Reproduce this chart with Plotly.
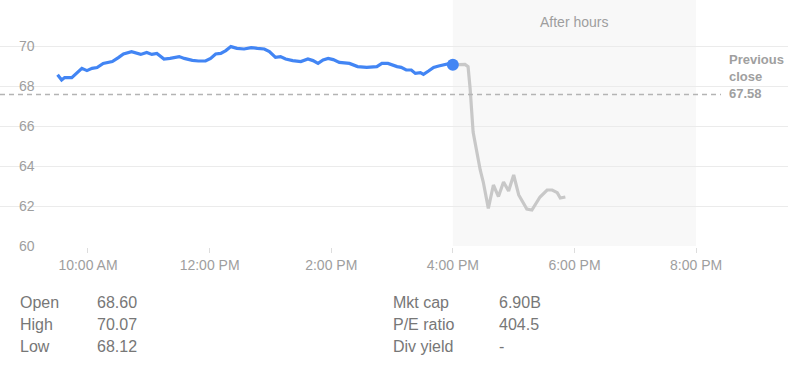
import plotly.graph_objects as go

DAY = "2019-05-02"

# Regular session (blue)
session_times = ["09:30", "09:34", "09:37", "09:44", "09:54", "09:59", "10:04", "10:09", "10:15", "10:24",
                 "10:30", "10:35", "10:43", "10:52", "10:58", "11:03", "11:08", "11:15", "11:21", "11:30",
                 "11:35", "11:43", "11:49", "11:56", "12:01", "12:06", "12:11", "12:16", "12:21", "12:27",
                 "12:34", "12:41", "12:47", "12:54", "12:59", "13:05", "13:10", "13:15", "13:22", "13:30",
                 "13:37", "13:42", "13:47", "13:52", "13:57", "14:02", "14:08", "14:18", "14:26", "14:35",
                 "14:45", "14:50", "14:56", "15:01", "15:05", "15:09", "15:14", "15:19", "15:23", "15:28",
                 "15:31", "15:36", "15:41", "15:46", "15:51", "15:57", "16:00"]
session_prices = [68.56, 68.30, 68.42, 68.42, 68.88, 68.77, 68.88, 68.92, 69.13, 69.22,
                  69.42, 69.60, 69.72, 69.58, 69.68, 69.58, 69.63, 69.35, 69.38, 69.47,
                  69.38, 69.28, 69.25, 69.25, 69.38, 69.60, 69.63, 69.77, 69.97, 69.88,
                  69.85, 69.92, 69.88, 69.85, 69.72, 69.43, 69.47, 69.35, 69.27, 69.22,
                  69.35, 69.27, 69.13, 69.30, 69.38, 69.32, 69.18, 69.13, 68.97, 68.93,
                  68.97, 69.13, 69.13, 69.02, 68.97, 68.93, 68.80, 68.80, 68.63, 68.67,
                  68.58, 68.75, 68.93, 69.00, 69.05, 69.13, 69.06]

# After hours (grey)
ah_times = ["16:00", "16:05", "16:12", "16:15", "16:17", "16:20", "16:24", "16:27", "16:30", "16:35",
            "16:40", "16:45", "16:50", "16:55", "17:00", "17:05", "17:13", "17:18", "17:26", "17:33",
            "17:38", "17:43", "17:46", "17:51"]
ah_prices = [69.06, 69.08, 69.08, 68.97, 67.90, 65.70, 64.55, 63.80, 63.20, 61.88,
             63.05, 62.47, 63.20, 62.75, 63.55, 62.55, 61.85, 61.80, 62.45, 62.80,
             62.80, 62.67, 62.40, 62.45]

prev_close = 67.58
y_ticks = [60, 62, 64, 66, 68, 70]

stats_left_labels = ["Open", "High", "Low"]
stats_left_values = ["68.60", "70.07", "68.12"]
stats_right_labels = ["Mkt cap", "P/E ratio", "Div yield"]
stats_right_values = ["6.90B", "404.5", "-"]

def ts(t):
    return f"{DAY} {t}"

FONT = "Liberation Sans, Arial, sans-serif"
W, H = 788, 375
PLOT_BOTTOM = 247  # px from top
Y0 = 59.95

fig = go.Figure()

fig.add_trace(go.Scatter(
    x=[ts(t) for t in ah_times], y=ah_prices, mode="lines",
    line=dict(color="#c8c8c8", width=3.2), hoverinfo="skip"))
fig.add_trace(go.Scatter(
    x=[ts(t) for t in session_times], y=session_prices, mode="lines",
    line=dict(color="#4285f4", width=3.2)))
fig.add_trace(go.Scatter(
    x=[ts(session_times[-1])], y=[session_prices[-1]], mode="markers",
    marker=dict(color="#4285f4", size=12)))

# After hours shading
fig.add_shape(type="rect", xref="x", yref="paper",
              x0=ts("16:00"), x1=ts("20:00"), y0=1 / PLOT_BOTTOM, y1=1,
              fillcolor="#f8f8f8", line_width=0, layer="below")
# Previous close line
fig.add_shape(type="line", xref="paper", yref="y",
              x0=0, x1=721 / W, y0=prev_close, y1=prev_close,
              line=dict(color="#b4b4b4", width=1.5, dash="5px,4px"))

fig.add_annotation(x=727 / W, xref="paper", y=prev_close, yref="y",
                   xanchor="left", yanchor="middle", yshift=17.5, align="left",
                   text=f"<b>Previous<br>close<br>{prev_close:.2f}</b>",
                   showarrow=False, font=dict(family=FONT, size=13, color="#a0a0a0"))
fig.add_annotation(x=ts("18:00"), xref="x", y=1 - 22 / PLOT_BOTTOM, yref="paper",
                   text="After hours", showarrow=False,
                   xanchor="center", yanchor="middle",
                   font=dict(family=FONT, size=14, color="#9e9e9e"))

def py(px):
    return (PLOT_BOTTOM - px) / PLOT_BOTTOM

rows_y = [302.5, 324.3, 346.7]
for col_x, labels in [(18, stats_left_labels), (95, stats_left_values),
                      (391, stats_right_labels), (497, stats_right_values)]:
    for lab, ry in zip(labels, rows_y):
        fig.add_annotation(x=col_x / W, xref="paper", y=py(ry), yref="paper",
                           xanchor="left", yanchor="middle", text=lab, showarrow=False,
                           font=dict(family=FONT, size=16, color="#777777"))

fig.update_layout(
    width=W, height=H,
    margin=dict(l=0, r=0, t=0, b=H - PLOT_BOTTOM, pad=0),
    paper_bgcolor="white", plot_bgcolor="white",
    showlegend=False,
    font=dict(family=FONT, size=14, color="#9e9e9e"),
    xaxis=dict(
        type="date", automargin=False,
        range=[f"{DAY} 08:33:12", f"{DAY} 21:30:40"],
        tick0=ts("10:00"), dtick=7200000, tickformat="%-I:%M %p",
        showgrid=False, zeroline=False, showline=False,
        ticks="outside", ticklen=5, tickcolor="#dddddd",
        tickfont=dict(family=FONT, size=14, color="#9e9e9e"),
    ),
    yaxis=dict(
        automargin=False,
        range=[Y0, Y0 + PLOT_BOTTOM / 20],
        tickvals=y_ticks, ticktext=[str(v) for v in y_ticks],
        ticklabelposition="inside", ticklabelstandoff=16, ticklabeloverflow="allow",
        showgrid=True, gridcolor="#ebebeb", gridwidth=1,
        zeroline=False, showline=False,
        tickfont=dict(family=FONT, size=14, color="#9e9e9e"),
    ),
)

fig.write_html("out.html", config={"displayModeBar": False},
               post_script="document.body.style.margin='0';document.body.style.overflow='hidden';")
